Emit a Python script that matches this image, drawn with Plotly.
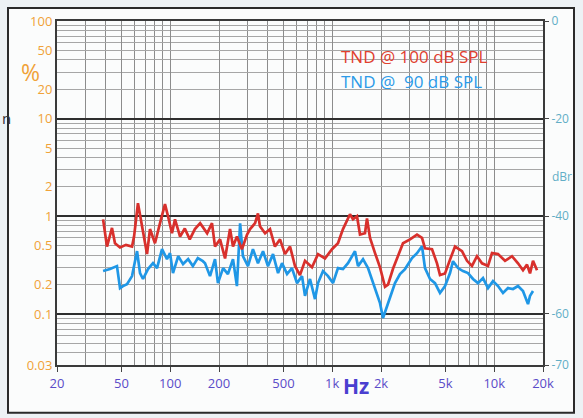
import plotly.graph_objects as go

# ---- data ----
red_freq = [38.5, 40.7, 43.7, 45.6, 49.0, 53.3, 58.1, 59.8, 63.2, 66.9, 71.9, 75.0, 80.5, 86.5, 92.8,
            96.9, 102.5, 107, 115, 123, 132, 142, 153, 169, 181, 189, 203, 218, 234, 244, 258, 277,
            298, 311, 334, 348, 358, 385, 413, 443, 476, 511, 549, 589, 632, 679, 750, 817, 902, 997,
            1085, 1165, 1287, 1344, 1422, 1484, 1593, 1639, 1711, 1837, 1972, 2117, 2210, 2372, 2546,
            2734, 3020, 3336, 3582, 3738, 4130, 4433, 4626, 4969, 5334, 5726, 6325, 6790, 7290, 7828,
            8404, 9152, 9688, 10552, 11655, 12872, 14020, 15050, 15932, 16628, 17352, 18368]
red_pct = [0.93, 0.49, 0.76, 0.53, 0.48, 0.51, 0.49, 0.62, 1.36, 0.79, 0.41, 0.74, 0.53, 0.85, 1.33,
           1.0, 0.67, 0.93, 0.62, 0.75, 0.58, 0.74, 0.85, 0.67, 0.85, 0.49, 0.58, 0.37, 0.74, 0.49,
           0.62, 0.46, 0.65, 0.74, 0.85, 1.07, 0.79, 0.67, 0.74, 0.49, 0.58, 0.41, 0.49, 0.31, 0.25,
           0.35, 0.30, 0.41, 0.37, 0.46, 0.53, 0.74, 1.05, 0.93, 1.0, 0.65, 0.67, 0.95, 0.60, 0.42,
           0.30, 0.19, 0.20, 0.29, 0.39, 0.53, 0.58, 0.65, 0.60, 0.47, 0.46, 0.33, 0.25, 0.26, 0.36,
           0.49, 0.44, 0.35, 0.31, 0.39, 0.33, 0.31, 0.42, 0.41, 0.35, 0.39, 0.33, 0.28, 0.32, 0.26,
           0.35, 0.28]

blue_freq = [38.5, 42.5, 46.9, 49.0, 51.1, 54.1, 58.1, 62.4, 65.1, 67.9, 72.9, 78.3, 82.9, 89.0, 95.5,
             99.7, 104, 112, 120, 129, 138, 148, 159, 164, 176, 189, 197, 212, 227, 244, 258, 270,
             281, 302, 324, 348, 374, 401, 431, 463, 490, 526, 564, 606, 651, 679, 729, 783, 817, 877,
             942, 1011, 1085, 1165, 1251, 1382, 1442, 1549, 1663, 1785, 1890, 1972, 2058, 2178, 2273,
             2440, 2620, 2813, 3108, 3336, 3582, 3738, 4014, 4309, 4626, 4969, 5334, 5566, 5975, 6416,
             6887, 7396, 7940, 8524, 9152, 9826, 10552, 11329, 12162, 13058, 14020, 15050, 16160,
             16628, 17352]
blue_pct = [0.275, 0.288, 0.309, 0.184, 0.193, 0.202, 0.244, 0.44, 0.262, 0.228, 0.288, 0.331, 0.295,
            0.461, 0.364, 0.419, 0.262, 0.391, 0.324, 0.364, 0.309, 0.373, 0.347, 0.331, 0.244, 0.364,
            0.207, 0.295, 0.256, 0.364, 0.193, 0.848, 0.391, 0.309, 0.461, 0.331, 0.439, 0.309, 0.41,
            0.262, 0.331, 0.256, 0.295, 0.207, 0.244, 0.153, 0.228, 0.142, 0.207, 0.275, 0.244, 0.207,
            0.295, 0.288, 0.331, 0.439, 0.309, 0.364, 0.295, 0.207, 0.164, 0.129, 0.091, 0.121, 0.153,
            0.207, 0.256, 0.288, 0.373, 0.419, 0.494, 0.295, 0.228, 0.207, 0.164, 0.193, 0.262, 0.347,
            0.295, 0.275, 0.262, 0.228, 0.207, 0.233, 0.184, 0.217, 0.193, 0.164, 0.184, 0.180, 0.193,
            0.172, 0.126, 0.153, 0.172]

x_tick_vals = [20, 50, 100, 200, 500, 1000, 2000, 5000, 10000, 20000]
x_tick_text = ["20", "50", "100", "200", "500", "1k", "2k", "5k", "10k", "20k"]
x_minor_vals = [30, 40, 60, 70, 80, 90, 300, 400, 600, 700, 800, 900,
                3000, 4000, 6000, 7000, 8000, 9000]

y_tick_vals = [0.03, 0.1, 0.2, 0.5, 1, 2, 5, 10, 20, 50, 100]
y_tick_text = ["0.03", "0.1", "0.2", "0.5", "1", "2", "5", "10", "20", "50", "100"]
y_minor_vals = [0.04, 0.05, 0.06, 0.07, 0.08, 0.09, 0.3, 0.4, 0.6, 0.7, 0.8, 0.9,
                3, 4, 6, 7, 8, 9, 30, 40, 60, 70, 80, 90]

dbr_tick_vals = [0, -20, -40, -60, -70.46]
dbr_tick_text = ["0", "-20", "-40", "-60", "-70"]

series_names = ["TND @ 100 dB SPL", "TND @  90 dB SPL"]
RED = "#d8302c"
BLUE = "#1f97e6"

FONT = "Open Sans"

fig = go.Figure()
fig.add_trace(go.Scatter(x=blue_freq, y=blue_pct, mode="lines", name=series_names[1],
                         line=dict(color=BLUE, width=2.7), yaxis="y"))
fig.add_trace(go.Scatter(x=red_freq, y=red_pct, mode="lines", name=series_names[0],
                         line=dict(color=RED, width=2.7), yaxis="y"))
# invisible trace to activate right axis
fig.add_trace(go.Scatter(x=[1000], y=[-100], mode="lines", yaxis="y2",
                         showlegend=False, hoverinfo="skip", line=dict(width=0)))

fig.update_layout(
    width=583, height=418,
    margin=dict(l=57, r=40, t=19, b=53),
    paper_bgcolor="#edf2f5",
    plot_bgcolor="#fdfdfd",
    showlegend=False,
    font=dict(family=FONT),
    xaxis=dict(
        type="log", range=[1.30103, 4.30103],
        tickmode="array", tickvals=x_tick_vals, ticktext=x_tick_text,
        tickfont=dict(color="#5a4bc8", size=13, family=FONT),
        ticks="outside", ticklen=5, tickcolor="#444", tickwidth=1,
        showgrid=True, gridcolor="#8c8c8c", gridwidth=1,
        minor=dict(tickmode="array", tickvals=x_minor_vals, showgrid=True,
                   gridcolor="#8c8c8c", gridwidth=1, ticks=""),
        showline=True, linecolor="#3a3a3a", linewidth=2, mirror=True,
        zeroline=False,
    ),
    yaxis=dict(
        type="log", range=[-1.52288, 2],
        tickmode="array", tickvals=y_tick_vals, ticktext=y_tick_text,
        tickfont=dict(color="#f0a238", size=13, family=FONT),
        ticks="", showgrid=True, gridcolor="#a6a6a6", gridwidth=1,
        minor=dict(tickmode="array", tickvals=y_minor_vals, showgrid=True,
                   gridcolor="#a6a6a6", gridwidth=1, ticks=""),
        showline=True, linecolor="#3a3a3a", linewidth=2, mirror=True,
        zeroline=False,
    ),
    yaxis2=dict(
        overlaying="y", side="right", range=[-70.46, 0],
        tickmode="array", tickvals=dbr_tick_vals, ticktext=dbr_tick_text,
        tickfont=dict(color="#62aec6", size=12, family=FONT),
        ticks="outside", ticklen=5, tickcolor="#444",
        showgrid=True, gridcolor="#2e2e2e", gridwidth=1.6,
        showline=False, zeroline=False,
    ),
)

# outer frame of the scanned chart
fig.add_shape(type="rect", xref="paper", yref="paper",
              x0=(8 - 57) / 486, x1=(574 - 57) / 486,
              y0=(365 - 413) / 346, y1=(365 - 6) / 346,
              line=dict(color="#2a2a2a", width=2), fillcolor="#fbfcfc", layer="below")


def px_ann(text, x, y, color, size, xanchor="center", weight="normal"):
    return dict(text=text, xref="paper", yref="paper",
                x=(x - 57) / 486, y=(365 - y) / 346,
                xanchor=xanchor, yanchor="middle", showarrow=False,
                font=dict(color=color, size=size, family=FONT, weight=weight))


ann = [
    px_ann("%", 30, 70, "#f0a238", 23),
    px_ann("Hz", 356, 386, "#4a3fd0", 21, weight="bold"),
    px_ann("dBr", 550, 175, "#62aec6", 12, xanchor="left"),
    px_ann(series_names[0], 339, 55, "#e0402e", 17, xanchor="left"),
    px_ann(series_names[1].replace("  ", "&nbsp;&nbsp;"), 339, 80, "#2b9ae8", 17, xanchor="left"),
    px_ann("n", 0, 117, "#333", 15, xanchor="left"),
]
fig.update_layout(annotations=ann)

fig.write_html("out.html")
